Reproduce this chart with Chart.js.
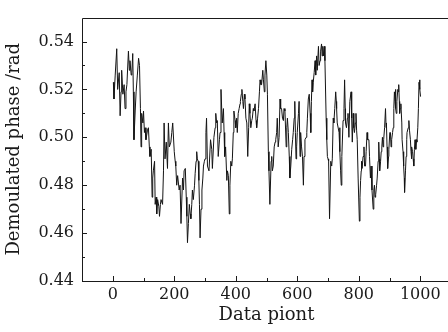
<!DOCTYPE html>
<html>
<head>
<meta charset="utf-8">
<script src="https://cdn.jsdelivr.net/npm/chart.js@4/dist/chart.umd.min.js"></script>
<style>
  html, body { margin: 0; padding: 0; background: #fff; overflow: hidden; }
  #wrap { width: 452px; height: 332px; }
</style>
</head>
<body>
<div id="wrap"><canvas id="phaseChart" width="452" height="332"></canvas></div>
<script>
// sample positions (data point number)
const pointIndex = [
  2, 4, 8, 13, 16, 21, 24, 27, 29, 33, 37, 40, 43, 46, 51, 54, 56, 60, 62, 65,
  67, 69, 73, 76, 80, 84, 87, 90, 92, 94, 98, 100, 103, 105, 108, 113, 116, 119, 121, 125,
  128, 130, 132, 136, 138, 141, 143, 146, 150, 152, 155, 157, 162, 165, 167, 170, 174, 178, 181, 184,
  189, 192, 195, 200, 203, 205, 208, 211, 216, 219, 222, 227, 230, 232, 236, 239, 241, 243, 246, 249,
  252, 254, 257, 259, 262, 266, 268, 271, 273, 275, 278, 280, 282, 284, 287, 290, 293, 295, 298, 300,
  303, 305, 308, 313, 318, 322, 324, 329, 333, 335, 338, 340, 343, 347, 349, 352, 356, 360, 362, 364,
  367, 371, 373, 376, 379, 381, 384, 387, 389, 392, 394, 398, 400, 403, 405, 408, 411, 414, 415, 418,
  420, 423, 425, 428, 430, 433, 436, 439, 442, 444, 446, 449, 452, 454, 457, 459, 463, 466, 468, 471,
  474, 477, 479, 482, 484, 488, 490, 493, 495, 498, 501, 503, 506, 508, 511, 515, 517, 519, 522, 525,
  528, 530, 533, 535, 538, 541, 544, 546, 549, 552, 555, 557, 560, 564, 566, 568, 571, 574, 576, 579,
  582, 585, 587, 590, 592, 594, 596, 598, 600, 604, 606, 609, 611, 614, 617, 620, 622, 625, 629, 631,
  633, 636, 639, 642, 644, 646, 648, 650, 652, 655, 658, 660, 663, 665, 669, 671, 674, 676, 679, 681,
  683, 685, 688, 690, 694, 696, 698, 700, 702, 705, 709, 712, 714, 717, 719, 722, 725, 727, 728, 730,
  732, 736, 738, 739, 741, 743, 745, 749, 752, 754, 756, 757, 760, 763, 765, 768, 771, 775, 777, 779,
  782, 784, 786, 789, 791, 793, 795, 798, 802, 804, 806, 808, 809, 811, 814, 817, 819, 822, 824, 827,
  829, 833, 835, 838, 840, 843, 847, 849, 851, 853, 855, 858, 860, 863, 865, 867, 868, 871, 873, 875,
  877, 879, 881, 884, 887, 889, 890, 892, 894, 897, 898, 901, 903, 905, 907, 910, 912, 914, 916, 918,
  919, 921, 922, 924, 927, 929, 930, 932, 933, 935, 937, 940, 941, 944, 946, 948, 949, 952, 954, 956,
  957, 959, 961, 963, 965, 968, 970, 971, 973, 975, 977, 979, 981, 983, 985, 986, 988, 989, 992, 994,
  996, 998, 999, 1001
];

// demodulated phase (rad) at those points
const phase = [
  0.523, 0.516, 0.526, 0.537, 0.520, 0.527, 0.509, 0.519, 0.528, 0.518, 0.522, 0.512, 0.519, 0.522, 0.536, 0.528, 0.532, 0.526, 0.527, 0.535,
  0.519, 0.499, 0.511, 0.519, 0.526, 0.533, 0.530, 0.512, 0.496, 0.510, 0.506, 0.511, 0.502, 0.504, 0.499, 0.503, 0.504, 0.496, 0.492, 0.495,
  0.475, 0.483, 0.486, 0.490, 0.472, 0.475, 0.468, 0.474, 0.471, 0.467, 0.472, 0.474, 0.472, 0.486, 0.506, 0.491, 0.498, 0.487, 0.506, 0.496,
  0.498, 0.502, 0.506, 0.494, 0.490, 0.488, 0.480, 0.484, 0.478, 0.480, 0.464, 0.483, 0.478, 0.486, 0.487, 0.475, 0.467, 0.456, 0.464, 0.472,
  0.468, 0.466, 0.472, 0.478, 0.474, 0.480, 0.485, 0.490, 0.494, 0.491, 0.490, 0.482, 0.472, 0.458, 0.470, 0.478, 0.483, 0.488, 0.490, 0.491,
  0.502, 0.508, 0.488, 0.486, 0.499, 0.495, 0.487, 0.500, 0.504, 0.510, 0.506, 0.507, 0.492, 0.499, 0.502, 0.520, 0.506, 0.512, 0.502, 0.492,
  0.496, 0.482, 0.486, 0.484, 0.468, 0.480, 0.490, 0.488, 0.491, 0.502, 0.511, 0.507, 0.504, 0.508, 0.502, 0.510, 0.512, 0.514, 0.515, 0.518,
  0.520, 0.515, 0.512, 0.518, 0.516, 0.508, 0.506, 0.492, 0.504, 0.514, 0.510, 0.504, 0.507, 0.508, 0.512, 0.511, 0.514, 0.507, 0.504, 0.508,
  0.512, 0.519, 0.524, 0.522, 0.522, 0.528, 0.524, 0.519, 0.526, 0.532, 0.526, 0.518, 0.494, 0.486, 0.472, 0.490, 0.492, 0.486, 0.488, 0.496,
  0.498, 0.499, 0.502, 0.508, 0.496, 0.500, 0.516, 0.512, 0.512, 0.508, 0.507, 0.512, 0.511, 0.496, 0.504, 0.508, 0.502, 0.492, 0.483, 0.488,
  0.495, 0.499, 0.502, 0.508, 0.515, 0.502, 0.491, 0.496, 0.502, 0.510, 0.515, 0.492, 0.502, 0.496, 0.492, 0.480, 0.492, 0.499, 0.500, 0.502,
  0.508, 0.516, 0.518, 0.510, 0.502, 0.515, 0.524, 0.519, 0.523, 0.527, 0.532, 0.526, 0.534, 0.528, 0.538, 0.530, 0.532, 0.536, 0.539, 0.534,
  0.538, 0.534, 0.538, 0.532, 0.508, 0.499, 0.492, 0.491, 0.490, 0.466, 0.490, 0.488, 0.491, 0.508, 0.506, 0.512, 0.519, 0.515, 0.512, 0.506,
  0.506, 0.502, 0.504, 0.494, 0.486, 0.480, 0.492, 0.507, 0.512, 0.524, 0.512, 0.506, 0.504, 0.508, 0.510, 0.500, 0.515, 0.519, 0.508, 0.498,
  0.510, 0.504, 0.502, 0.506, 0.510, 0.503, 0.499, 0.483, 0.465, 0.475, 0.482, 0.486, 0.490, 0.487, 0.492, 0.496, 0.488, 0.488, 0.494, 0.502,
  0.499, 0.499, 0.492, 0.483, 0.488, 0.478, 0.470, 0.478, 0.480, 0.475, 0.476, 0.480, 0.483, 0.490, 0.498, 0.491, 0.486, 0.490, 0.494, 0.496,
  0.500, 0.496, 0.499, 0.504, 0.512, 0.504, 0.506, 0.496, 0.487, 0.492, 0.495, 0.502, 0.502, 0.496, 0.499, 0.502, 0.504, 0.512, 0.519, 0.515,
  0.520, 0.512, 0.510, 0.515, 0.520, 0.519, 0.522, 0.515, 0.510, 0.512, 0.514, 0.506, 0.499, 0.494, 0.488, 0.483, 0.477, 0.486, 0.492, 0.499,
  0.502, 0.502, 0.504, 0.507, 0.503, 0.499, 0.494, 0.491, 0.496, 0.494, 0.491, 0.488, 0.495, 0.499, 0.496, 0.495, 0.499, 0.498, 0.504, 0.512,
  0.523, 0.524, 0.520, 0.517
];

const xTicks = [0, 200, 400, 600, 800, 1000];
const xMinorTicks = [100, 300, 500, 700, 900];
const yTicks = [0.44, 0.46, 0.48, 0.50, 0.52, 0.54];
const yMinorTicks = [0.45, 0.47, 0.49, 0.51, 0.53];

const serif = '"DejaVu Serif", "Liberation Serif", serif';

// frame + inward tick marks like the original plot
const framePlugin = {
  id: 'frame',
  afterDraw(chart) {
    const { ctx, chartArea: a, scales } = chart;
    ctx.save();
    ctx.strokeStyle = '#1a1a1a';
    ctx.lineWidth = 1;
    ctx.beginPath();
    ctx.rect(Math.round(a.left) + 0.5, Math.round(a.top) + 0.5,
      Math.round(a.right - a.left), Math.round(a.bottom - a.top));
    ctx.stroke();

    ctx.beginPath();
    const tick = (v, len, axis) => {
      if (axis === 'x') {
        const px = Math.round(scales.x.getPixelForValue(v)) + 0.5;
        ctx.moveTo(px, a.bottom);
        ctx.lineTo(px, a.bottom - len);
      } else {
        const py = Math.round(scales.y.getPixelForValue(v)) + 0.5;
        ctx.moveTo(a.left, py);
        ctx.lineTo(a.left + len, py);
      }
    };
    xTicks.forEach((v) => tick(v, 5, 'x'));
    xMinorTicks.forEach((v) => tick(v, 3, 'x'));
    yTicks.forEach((v) => tick(v, 5, 'y'));
    yMinorTicks.forEach((v) => tick(v, 3, 'y'));
    ctx.stroke();
    ctx.restore();
  },
};

const ctx = document.getElementById('phaseChart').getContext('2d');
new Chart(ctx, {
  type: 'line',
  data: {
    datasets: [
      {
        data: pointIndex.map((x, i) => ({ x: x, y: phase[i] })),
        borderColor: '#141414',
        borderWidth: 1,
        pointRadius: 0,
        tension: 0,
        fill: false,
      },
    ],
  },
  options: {
    responsive: false,
    animation: false,
    layout: {
      padding: { top: 6, right: 1, bottom: 0, left: 0 },
    },
    plugins: {
      legend: { display: false },
      tooltip: { enabled: false },
    },
    scales: {
      x: {
        type: 'linear',
        min: -100,
        max: 1100,
        afterBuildTicks: (s) => {
          s.ticks = xTicks.map((v) => ({ value: v }));
        },
        afterFit: (s) => {
          s.height = 51;
        },
        grid: { display: false, drawTicks: false },
        border: { display: false },
        ticks: {
          color: '#1a1a1a',
          padding: 4,
          maxRotation: 0,
          font: { family: serif, size: 16 },
          callback: (v) => String(v),
        },
        title: {
          display: true,
          text: 'Data piont',
          color: '#1a1a1a',
          font: { family: serif, size: 18 },
          padding: { top: 0, bottom: 6 },
        },
      },
      y: {
        min: 0.44,
        max: 0.55,
        afterBuildTicks: (s) => {
          s.ticks = yTicks.map((v) => ({ value: v }));
        },
        afterFit: (s) => {
          s.width = 82;
        },
        grid: { display: false, drawTicks: false },
        border: { display: false },
        ticks: {
          color: '#1a1a1a',
          padding: 8,
          font: { family: serif, size: 16 },
          callback: (v) => v.toFixed(2),
        },
        title: {
          display: true,
          text: 'Demoulated phase /rad',
          color: '#1a1a1a',
          font: { family: serif, size: 18 },
          padding: { top: 4, bottom: 0 },
        },
      },
    },
  },
  plugins: [framePlugin],
});
</script>
</body>
</html>
